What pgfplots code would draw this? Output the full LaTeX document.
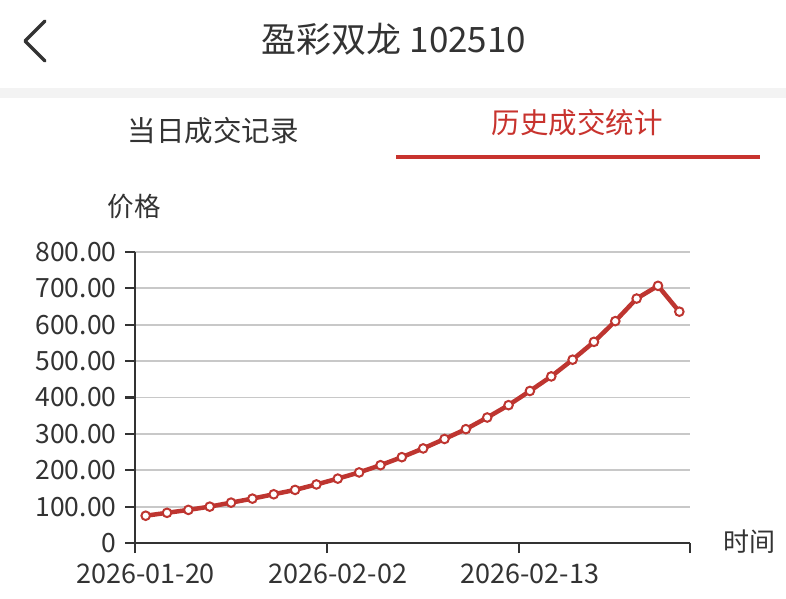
\documentclass[border=0pt]{standalone}
\usepackage{fontspec}
\setmainfont{Noto Sans CJK SC}
\usepackage{pgfplots}
\pgfplotsset{compat=1.18}
\definecolor{axisgray}{HTML}{333333}
\definecolor{gridgray}{HTML}{C8C8C8}
\definecolor{textgray}{HTML}{333333}
\definecolor{linered}{HTML}{BE3530}
\definecolor{tabred}{HTML}{C8332E}
\definecolor{bandgray}{HTML}{F3F3F3}

\begin{document}
\begin{tikzpicture}[x=1pt,y=1pt]
% page frame (786 x 598)
\fill[white] (0,0) rectangle (786,598);
\fill[bandgray] (0,500) rectangle (786,510);
% header
\draw[textgray, line width=3.5pt, line cap=round, line join=round] (45,577) -- (25,557) -- (45,537);
\node[textgray, font=\fontsize{35}{40}\selectfont] at (394,559) {盈彩双龙 102510};
\node[textgray, font=\fontsize{28.5}{33}\selectfont] at (213,467) {当日成交记录};
\node[tabred, font=\fontsize{28.5}{33}\selectfont] at (577,475) {历史成交统计};
\draw[tabred, line width=4pt] (396,441) -- (760,441);
% axis titles
\node[textgray, font=\fontsize{26.5}{30}\selectfont] at (134,391) {价格};
\node[textgray, font=\fontsize{26}{30}\selectfont] at (749,56) {时间};

\begin{axis}[
  at={(135pt,55pt)}, anchor=south west,
  scale only axis, width=555pt, height=291pt,
  xmin=-0.5, xmax=25.5, ymin=0, ymax=800,
  axis x line*=bottom, axis y line*=left,
  axis line style={axisgray, line width=2.2pt, -},
  tick align=outside,
  ytick={0,100,200,300,400,500,600,700,800},
  yticklabels={0,100.00,200.00,300.00,400.00,500.00,600.00,700.00,800.00},
  ytick style={axisgray, line width=2.2pt},
  major tick length=10pt,
  ymajorgrids, grid style={gridgray, line width=1.8pt},
  xtick={-0.5,8.5,17.5,25.5}, xticklabels={},
  xtick style={axisgray, line width=2.2pt},
  extra x ticks={0,9,18},
  extra x tick labels={2026-01-20,2026-02-02,2026-02-13},
  extra x tick style={major tick length=0pt, grid=none,
    xticklabel style={yshift=-17pt}},
  tick label style={textgray, font=\fontsize{26.5}{30}\selectfont},
  xticklabel style={font=\fontsize{27}{30}\selectfont},
  yticklabel style={xshift=-5pt},
]
\addplot[linered, line width=4.5pt, mark=*, mark size=4.3pt,
  mark options={fill=white, draw=linered, line width=2pt}] coordinates {
(0,75)(1,83)(2,91)(3,100)(4,111)(5,122)(6,134)(7,146)(8,161)(9,177)
(10,194)(11,214)(12,236)(13,260)(14,286)(15,313)(16,345)(17,379)(18,418)
(19,458)(20,504)(21,553)(22,610)(23,672)(24,707)(25,636)};
\end{axis}
\end{tikzpicture}
\end{document}
